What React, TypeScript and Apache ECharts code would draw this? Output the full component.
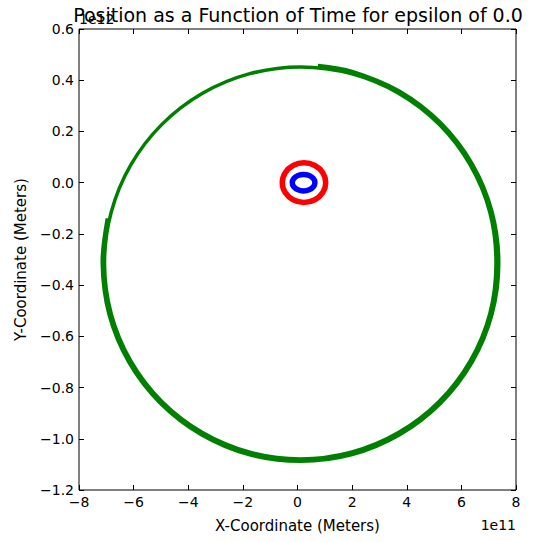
import React, { useEffect, useRef } from "react";
import * as echarts from "echarts";

// X values in units of 1e11 m, Y values in units of 1e12 m
const X_TICKS = { min: -8, max: 8, interval: 2 };
const Y_TICKS = { min: -1.2, max: 0.6, interval: 0.2 };

// Outer (green) orbit, first pass (closed loop)
const GREEN1_X = [7.268, 7.041, 6.323, 5.184, 3.698, 1.966, 0.11, -1.746, -3.478, -4.965, -6.103, -6.821, -7.066, -6.821, -6.103, -4.965, -3.478, -1.746, 0.11, 1.966, 3.698, 5.184, 6.323, 7.041];
const GREEN1_Y = [-0.3135, -0.1156, 0.0691, 0.2276, 0.349, 0.4256, 0.452, 0.4256, 0.349, 0.2276, 0.0691, -0.1156, -0.3135, -0.5115, -0.696, -0.8547, -0.976, -1.0527, -1.079, -1.0527, -0.976, -0.8547, -0.696, -0.5115];
// Outer (green) orbit, second partial pass (slightly larger)
const GREEN2_X = [-6.953, -7.14, -6.894, -6.169, -5.016, -3.515, -1.776, 0.11, 1.996, 3.735, 5.236, 6.389, 7.114, 7.36, 7.114, 6.389, 5.236, 3.735, 1.996, 0.744];
const GREEN2_Y = [-0.1394, -0.3135, -0.5134, -0.7, -0.8602, -0.9832, -1.0606, -1.0868, -1.0606, -0.9832, -0.8602, -0.7, -0.5134, -0.3135, -0.1135, 0.073, 0.2332, 0.3562, 0.4336, 0.457];
// Middle (red) orbit (closed loop)
const RED_X = [1.033, 0.926, 0.636, 0.238, -0.16, -0.45, -0.557, -0.45, -0.16, 0.238, 0.636, 0.926];
const RED_Y = [0, 0.0387, 0.0669, 0.0773, 0.0669, 0.0387, 0, -0.0387, -0.0669, -0.0773, -0.0669, -0.0387];
// Inner (blue) orbit (closed loop)
const BLUE_X = [0.637, 0.582, 0.43, 0.223, 0.016, -0.136, -0.191, -0.136, 0.016, 0.223, 0.43, 0.582];
const BLUE_Y = [0, 0.0161, 0.0279, 0.0322, 0.0279, 0.0161, 0, -0.0161, -0.0279, -0.0322, -0.0279, -0.0161];

const TITLE = "Position as a Function of Time for epsilon of 0.0";
const X_LABEL = "X-Coordinate (Meters)";
const Y_LABEL = "Y-Coordinate (Meters)";
const X_OFFSET = "1e11";
const Y_OFFSET = "1e12";

const zip = (xs: number[], ys: number[]) => xs.map((x, i) => [x, ys[i]]);
const FONT = "DejaVu Sans";

const fmtX = (v: number) => (v < 0 ? "\u2212" + Math.abs(v) : String(v));
const fmtY = (v: number) => (v < -1e-9 ? "\u2212" + Math.abs(v).toFixed(1) : Math.abs(v).toFixed(1));

export default function App() {
  const ref = useRef<HTMLDivElement>(null);
  useEffect(() => {
    if (!ref.current) return;
    const chart = echarts.init(ref.current, null, { renderer: "svg" });
    const L = 79, R = 516, T = 29, B = 490;
    const tickStyle = { inside: true, length: 5, lineStyle: { color: "#000", width: 1 } };
    const labelStyle = { color: "#000", fontFamily: FONT, fontSize: 14 };
    const orbit = (name: string, data: number[][], color: string, width: number, closed: boolean) => ({
      type: "custom",
      name,
      data,
      clip: false,
      z: 3,
      renderItem: (params: any, api: any) => {
        if (params.dataIndex !== 0) return null;
        const pts = data.map((d) => api.coord(d));
        return {
          type: closed ? "polygon" : "polyline",
          shape: { points: pts, smooth: 0.34 },
          style: { fill: closed ? "none" : null, stroke: color, lineWidth: width },
        };
      },
    });
    chart.setOption({
      animation: false,
      backgroundColor: "#fff",
      grid: {
        left: L,
        right: 533 - R,
        top: T,
        bottom: 542 - B,
        show: true,
        borderColor: "#000",
        borderWidth: 1,
        backgroundColor: "transparent",
      },
      xAxis: [
        {
          type: "value",
          ...X_TICKS,
          position: "bottom",
          axisLine: { show: false, onZero: false },
          axisTick: tickStyle,
          axisLabel: { ...labelStyle, margin: 5, formatter: fmtX },
          splitLine: { show: false },
        },
        {
          type: "value",
          ...X_TICKS,
          position: "top",
          axisLine: { show: false, onZero: false },
          axisTick: tickStyle,
          axisLabel: { show: false },
          splitLine: { show: false },
        },
      ],
      yAxis: [
        {
          type: "value",
          ...Y_TICKS,
          position: "left",
          axisLine: { show: false, onZero: false },
          axisTick: tickStyle,
          axisLabel: { ...labelStyle, margin: 5, formatter: fmtY },
          splitLine: { show: false },
        },
        {
          type: "value",
          ...Y_TICKS,
          position: "right",
          axisLine: { show: false, onZero: false },
          axisTick: tickStyle,
          axisLabel: { show: false },
          splitLine: { show: false },
        },
      ],
      series: [
        orbit("green pass 1", zip(GREEN1_X, GREEN1_Y), "#008000", 3.5, true),
        orbit("green pass 2", zip(GREEN2_X, GREEN2_Y), "#008000", 4, false),
        orbit("red", zip(RED_X, RED_Y), "#ff0000", 5.5, true),
        orbit("blue", zip(BLUE_X, BLUE_Y), "#0000ff", 5.5, true),
      ],
      graphic: [
        {
          type: "text",
          style: { x: 298, y: 15, text: TITLE, fill: "#000", font: `19px ${FONT}`, align: "center", verticalAlign: "middle" },
        },
        {
          type: "text",
          style: { x: L, y: 19, text: Y_OFFSET, fill: "#000", font: `14px ${FONT}`, align: "left", verticalAlign: "middle" },
        },
        {
          type: "text",
          style: { x: R, y: 525, text: X_OFFSET, fill: "#000", font: `14px ${FONT}`, align: "right", verticalAlign: "middle" },
        },
        {
          type: "text",
          style: { x: (L + R) / 2, y: 526, text: X_LABEL, fill: "#000", font: `15px ${FONT}`, align: "center", verticalAlign: "middle" },
        },
        {
          type: "text",
          x: 21,
          y: (T + B) / 2,
          rotation: Math.PI / 2,
          style: { x: 0, y: 0, text: Y_LABEL, fill: "#000", font: `15px ${FONT}`, align: "center", verticalAlign: "middle" },
        },
      ],
    });
    return () => chart.dispose();
  }, []);
  return <div ref={ref} style={{ width: 533, height: 542, position: "absolute", left: 0, top: 0 }} />;
}
